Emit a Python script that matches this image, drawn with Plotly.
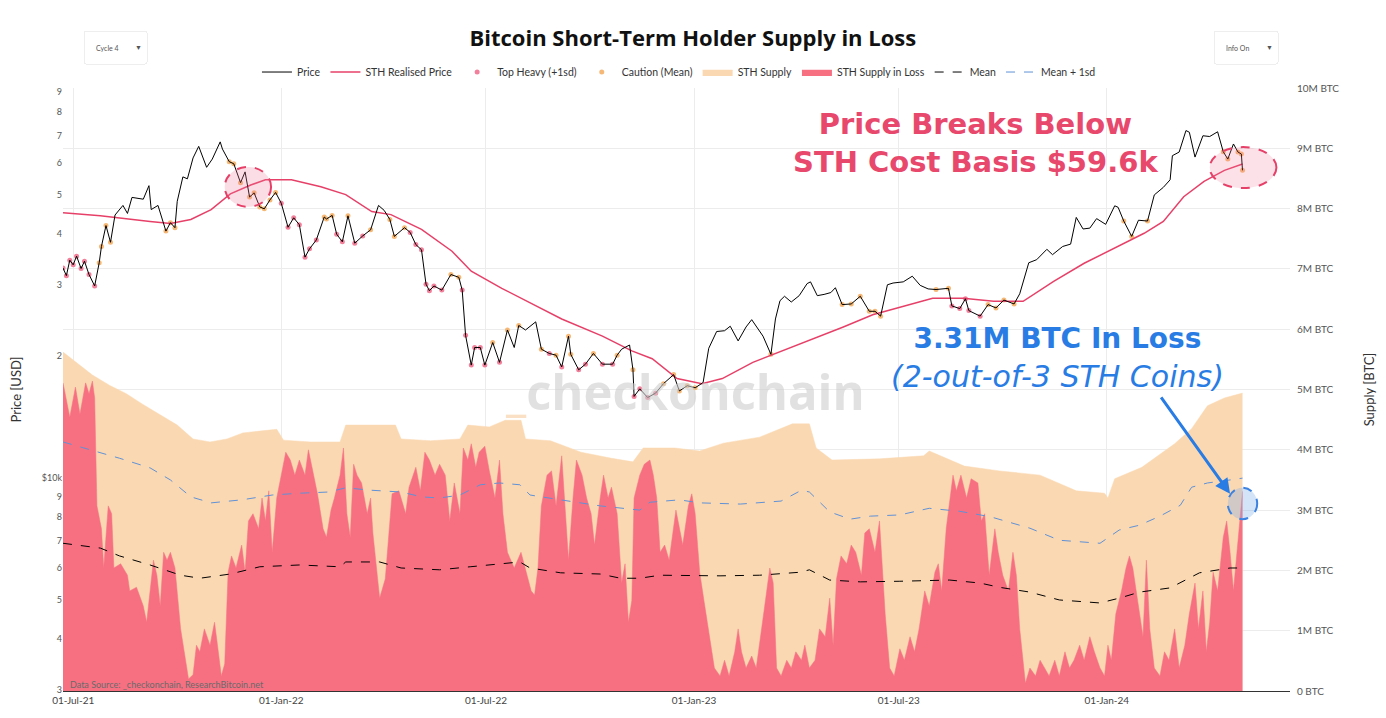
import numpy as np
import pandas as pd
import plotly.graph_objects as go

# ---------------- DATA ----------------
price_dates = ["2021-06-22","2021-06-25","2021-06-28","2021-07-01","2021-07-04","2021-07-08","2021-07-11","2021-07-15",
"2021-07-20","2021-07-24","2021-07-26","2021-07-30","2021-08-03","2021-08-07","2021-08-14","2021-08-18","2021-08-22",
"2021-08-27","2021-09-01","2021-09-06","2021-09-08","2021-09-14","2021-09-21","2021-09-25","2021-09-29","2021-10-01",
"2021-10-06","2021-10-10","2021-10-15","2021-10-20","2021-10-24","2021-10-27","2021-11-01","2021-11-08","2021-11-10",
"2021-11-16","2021-11-20","2021-11-26","2021-11-30","2021-12-04","2021-12-08","2021-12-13","2021-12-17","2021-12-22",
"2021-12-27","2022-01-01","2022-01-07","2022-01-12","2022-01-17","2022-01-22","2022-01-26","2022-02-01","2022-02-08",
"2022-02-10","2022-02-15","2022-02-19","2022-02-24","2022-03-01","2022-03-07","2022-03-14","2022-03-21","2022-03-28",
"2022-04-02","2022-04-07","2022-04-11","2022-04-20","2022-04-25","2022-04-30","2022-05-05","2022-05-09","2022-05-12",
"2022-05-16","2022-05-23","2022-05-31","2022-06-07","2022-06-10","2022-06-13","2022-06-18","2022-06-21","2022-06-26",
"2022-06-30","2022-07-07","2022-07-13","2022-07-20","2022-07-26","2022-07-30","2022-08-05","2022-08-14","2022-08-19",
"2022-08-26","2022-09-01","2022-09-06","2022-09-12","2022-09-14","2022-09-21","2022-09-27","2022-10-04","2022-10-12",
"2022-10-21","2022-10-25","2022-10-29","2022-11-05","2022-11-08","2022-11-09","2022-11-14","2022-11-21","2022-11-28",
"2022-12-05","2022-12-14","2022-12-19","2022-12-26","2023-01-02","2023-01-09","2023-01-14","2023-01-21","2023-01-28",
"2023-02-02","2023-02-09","2023-02-16","2023-02-21","2023-03-03","2023-03-10","2023-03-14","2023-03-18","2023-03-22",
"2023-03-28","2023-04-04","2023-04-11","2023-04-14","2023-04-20","2023-04-26","2023-05-02","2023-05-06","2023-05-12",
"2023-05-20","2023-05-28","2023-06-05","2023-06-10","2023-06-15","2023-06-21","2023-06-26","2023-07-05","2023-07-13",
"2023-07-20","2023-07-27","2023-08-03","2023-08-14","2023-08-17","2023-08-24","2023-08-29","2023-09-01","2023-09-11",
"2023-09-18","2023-09-25","2023-10-02","2023-10-11","2023-10-16","2023-10-24","2023-10-31","2023-11-09","2023-11-14",
"2023-11-23","2023-11-30","2023-12-05","2023-12-11","2023-12-17","2023-12-23","2023-12-31","2024-01-08","2024-01-11",
"2024-01-16","2024-01-23","2024-01-29","2024-02-06","2024-02-12","2024-02-20","2024-02-26","2024-02-28","2024-03-05",
"2024-03-11","2024-03-14","2024-03-19","2024-03-26","2024-04-01","2024-04-08","2024-04-13","2024-04-17","2024-04-22",
"2024-04-26","2024-04-29","2024-04-30"]
price_k = [33.0,31.6,34.5,33.6,35.3,32.9,34.3,31.8,
29.8,34.0,37.3,42.0,38.2,44.6,47.1,45.0,49.3,
49.1,48.8,52.7,46.0,47.1,40.7,42.7,41.5,48.2,
55.4,54.8,61.7,65.9,61.1,58.5,61.3,67.6,64.9,
60.4,59.7,53.6,57.0,49.4,50.6,46.7,46.2,48.6,
50.7,47.7,41.6,43.9,42.2,35.1,36.8,38.7,44.1,
43.6,44.5,40.0,38.3,44.4,38.0,39.6,41.0,47.1,
45.8,43.5,39.5,41.5,40.4,37.7,36.6,30.1,29.0,
29.8,29.1,31.8,31.3,29.1,22.5,19.0,21.0,21.0,
19.0,21.6,19.3,23.2,21.0,23.8,23.2,24.3,20.8,
20.3,20.1,18.8,22.4,20.2,18.5,19.1,20.3,19.1,
19.1,20.1,20.8,21.3,18.5,15.9,16.6,15.8,16.2,
17.1,18.0,16.4,16.9,16.7,17.2,20.9,23.0,23.1,
23.7,21.8,23.6,24.6,22.4,20.2,24.7,27.4,28.1,
27.2,28.2,30.2,30.5,28.2,28.4,28.7,29.5,26.8,
26.9,28.1,25.8,25.8,25.1,30.0,30.3,30.5,31.5,
29.9,29.3,29.2,29.4,26.6,26.2,27.7,25.9,25.1,
26.8,26.3,27.5,26.9,28.5,34.0,34.6,36.7,35.6,
37.3,37.8,44.0,41.2,41.4,43.7,42.3,47.0,46.6,
43.1,39.5,43.3,43.1,50.0,52.2,54.5,62.5,63.8,
72.1,71.4,62.0,70.0,69.7,71.6,63.9,61.3,66.8,
63.8,63.1,57.5]

sth_rp_dates = ["2021-06-22","2021-07-25","2021-09-07","2021-09-25","2021-10-13","2021-10-31","2021-11-17","2021-12-05",
"2021-12-18","2022-01-10","2022-02-05","2022-02-27","2022-03-22","2022-04-08","2022-05-05","2022-06-01","2022-06-18",
"2022-07-15","2022-08-10","2022-09-06","2022-10-12","2022-11-07","2022-11-25","2022-12-17","2023-01-08","2023-01-26",
"2023-02-22","2023-03-20","2023-04-16","2023-05-13","2023-06-08","2023-07-05","2023-07-31","2023-08-27","2023-09-23",
"2023-10-19","2023-11-15","2023-12-12","2024-01-07","2024-02-03","2024-02-20","2024-03-09","2024-03-27","2024-04-14",
"2024-04-30"]
sth_rp_k = [45.2,44.4,43.0,42.5,43.5,46.0,50.3,52.9,
54.5,54.5,52.4,50.1,45.5,44.7,41.1,36.3,32.4,
29.4,27.0,24.7,22.4,20.6,19.7,17.6,17.1,17.6,
19.3,20.6,22.1,23.6,25.3,26.6,27.8,27.8,27.3,
27.3,30.6,33.9,36.9,40.2,43.0,49.5,54.0,57.5,
59.6]

supply_dates = ["2021-06-22","2021-07-18","2021-08-02","2021-08-17","2021-08-31","2021-09-15","2021-10-01","2021-10-15",
"2021-10-30","2021-11-14","2021-11-28","2021-12-13","2021-12-28","2022-01-03","2022-01-27","2022-02-22","2022-02-27",
"2022-03-21","2022-04-12","2022-04-17","2022-05-13","2022-06-08","2022-06-15","2022-07-04","2022-07-18","2022-08-01",
"2022-08-05","2022-08-27","2022-09-23","2022-10-20","2022-11-08","2022-11-17","2022-12-15","2023-01-06","2023-01-27",
"2023-02-28","2023-03-29","2023-04-13","2023-04-19","2023-05-03","2023-06-14","2023-07-23","2023-07-28","2023-08-28",
"2023-09-28","2023-11-03","2023-12-05","2023-12-30","2024-01-02","2024-01-08","2024-02-01","2024-03-01","2024-03-16",
"2024-03-30","2024-04-14","2024-04-30"]
supply_m = [5.62,5.24,5.07,4.93,4.76,4.59,4.41,4.18,
4.13,4.18,4.28,4.31,4.34,4.16,4.13,4.13,4.41,
4.41,4.41,4.18,4.15,4.18,4.41,4.38,4.49,4.49,
4.18,4.15,3.96,3.86,3.80,4.03,4.03,3.98,4.11,
4.21,4.43,4.43,4.03,3.83,3.85,3.90,3.98,3.73,
3.65,3.58,3.32,3.28,3.20,3.52,3.71,4.10,4.35,
4.73,4.86,4.94]

loss_dates = ["2021-06-22","2021-06-28","2021-07-03","2021-07-07","2021-07-12","2021-07-15","2021-07-18","2021-07-20",
"2021-07-22","2021-07-26","2021-07-28","2021-08-01","2021-08-04","2021-08-06","2021-08-12","2021-08-18","2021-08-20",
"2021-08-26","2021-09-01","2021-09-04","2021-09-07","2021-09-10","2021-09-13","2021-09-16","2021-09-19","2021-09-22",
"2021-09-25","2021-09-29","2021-10-04","2021-10-08","2021-10-11","2021-10-15","2021-10-18","2021-10-21","2021-10-25",
"2021-10-30","2021-11-03","2021-11-06","2021-11-09","2021-11-12","2021-11-15","2021-11-18","2021-11-22","2021-11-27",
"2021-11-30","2021-12-03","2021-12-07","2021-12-12","2021-12-15","2021-12-18","2021-12-21","2021-12-24","2021-12-28",
"2022-01-01","2022-01-05","2022-01-09","2022-01-13","2022-01-17","2022-01-22","2022-01-25","2022-01-29","2022-02-02",
"2022-02-07","2022-02-10","2022-02-14","2022-02-17","2022-02-22","2022-02-25","2022-02-28","2022-03-03","2022-03-06",
"2022-03-09","2022-03-13","2022-03-18","2022-03-21","2022-03-23","2022-03-29","2022-04-03","2022-04-09","2022-04-15",
"2022-04-21","2022-04-24","2022-04-30","2022-05-04","2022-05-08","2022-05-12","2022-05-17","2022-05-21","2022-05-26",
"2022-05-30","2022-06-03","2022-06-08","2022-06-11","2022-06-15","2022-06-18","2022-06-22","2022-06-25","2022-06-30",
"2022-07-04","2022-07-09","2022-07-13","2022-07-16","2022-07-20","2022-07-26","2022-08-01","2022-08-06","2022-08-10",
"2022-08-13","2022-08-16","2022-08-19","2022-08-24","2022-08-28","2022-09-01","2022-09-06","2022-09-09","2022-09-12",
"2022-09-16","2022-09-19","2022-09-24","2022-09-28","2022-10-02","2022-10-05","2022-10-10","2022-10-13","2022-10-17",
"2022-10-20","2022-10-25","2022-10-29","2022-11-01","2022-11-04","2022-11-07","2022-11-09","2022-11-14","2022-11-18",
"2022-11-23","2022-11-26","2022-11-29","2022-12-02","2022-12-06","2022-12-10","2022-12-16","2022-12-22","2022-12-27",
"2022-12-30","2023-01-02","2023-01-06","2023-01-10","2023-01-15","2023-01-19","2023-01-24","2023-01-28","2023-02-01",
"2023-02-06","2023-02-09","2023-02-12","2023-02-16","2023-02-21","2023-02-25","2023-03-01","2023-03-04","2023-03-09",
"2023-03-12","2023-03-15","2023-03-19","2023-03-24","2023-03-28","2023-04-01","2023-04-06","2023-04-09","2023-04-13",
"2023-04-18","2023-04-22","2023-04-27","2023-05-01","2023-05-04","2023-05-07","2023-05-11","2023-05-16","2023-05-20",
"2023-05-24","2023-05-29","2023-06-01","2023-06-05","2023-06-10","2023-06-14","2023-06-19","2023-06-23","2023-06-27",
"2023-07-02","2023-07-06","2023-07-11","2023-07-15","2023-07-19","2023-07-24","2023-07-28","2023-08-02","2023-08-05",
"2023-08-08","2023-08-12","2023-08-18","2023-08-21","2023-08-25","2023-08-30","2023-09-03","2023-09-09","2023-09-12",
"2023-09-15","2023-09-19","2023-09-24","2023-09-27","2023-10-01","2023-10-06","2023-10-10","2023-10-13","2023-10-16",
"2023-10-21","2023-10-25","2023-10-30","2023-11-03","2023-11-07","2023-11-11","2023-11-16","2023-11-20","2023-11-25",
"2023-11-29","2023-12-03","2023-12-08","2023-12-12","2023-12-17","2023-12-21","2023-12-26","2023-12-30","2024-01-02",
"2024-01-05","2024-01-09","2024-01-14","2024-01-18","2024-01-21","2024-01-24","2024-01-27","2024-01-30","2024-02-02",
"2024-02-05","2024-02-08","2024-02-12","2024-02-17","2024-02-21","2024-02-25","2024-03-01","2024-03-05","2024-03-10",
"2024-03-14","2024-03-19","2024-03-22","2024-03-26","2024-03-29","2024-04-01","2024-04-04","2024-04-08","2024-04-13",
"2024-04-16","2024-04-19","2024-04-22","2024-04-25","2024-04-28","2024-04-30"]
loss_m = [5.11,4.54,5.04,4.59,5.11,4.93,5.14,4.86,
3.07,2.69,2.04,3.07,2.94,2.04,2.11,1.92,1.66,
1.72,1.41,1.14,1.66,2.17,1.92,1.41,2.30,2.17,
2.30,2.04,1.03,0.51,0.20,0.27,0.76,0.65,1.03,
0.76,1.14,0.70,0.25,0.45,1.97,2.24,2.04,2.42,
1.97,2.82,2.94,2.69,3.20,2.82,3.32,2.30,3.20,
3.58,3.96,3.83,3.58,3.83,3.58,4.00,3.65,3.27,
2.69,2.55,3.00,3.20,3.58,4.03,2.94,2.55,3.76,
3.58,3.45,2.94,3.20,2.62,1.54,1.86,3.27,3.32,
2.94,3.38,3.71,3.32,3.96,3.83,3.58,3.76,3.58,
2.82,3.45,2.94,4.03,3.83,4.10,3.71,3.96,4.06,
3.65,3.20,3.83,2.94,2.30,2.04,2.30,1.92,1.66,
1.59,2.04,3.07,3.58,3.65,3.07,3.90,2.94,2.17,
3.20,3.83,3.58,3.20,2.94,2.42,3.20,3.58,3.20,
3.38,2.94,1.79,2.11,1.14,1.50,3.20,3.58,3.76,
3.83,3.58,3.20,2.30,2.42,2.17,3.00,2.42,3.07,
3.27,2.94,1.97,1.47,0.83,0.38,0.25,0.51,0.25,
0.65,1.03,0.65,0.38,0.58,0.38,0.90,1.34,2.04,
1.79,0.38,0.25,0.51,0.38,0.65,0.51,0.76,0.38,
0.51,1.03,0.90,1.54,0.76,1.86,2.24,2.11,2.42,
2.30,1.92,2.62,2.69,2.30,2.82,1.28,0.38,0.25,
0.70,0.51,0.90,0.65,1.03,1.66,1.41,1.97,2.11,
1.66,2.69,3.58,3.32,3.58,3.20,3.52,3.45,2.82,
2.94,1.92,2.69,2.30,1.92,1.66,2.30,1.92,1.03,
0.13,0.38,0.25,0.51,0.38,0.25,0.51,0.25,0.65,
0.38,0.51,0.76,0.51,0.90,0.65,0.38,0.25,0.76,
0.51,1.28,1.66,2.04,2.24,2.04,1.66,1.28,0.90,
2.17,1.03,0.38,0.25,0.65,0.51,1.03,0.38,0.76,
1.28,1.79,1.03,1.66,0.65,1.14,1.97,1.66,2.55,
2.82,2.30,1.66,2.30,2.94,3.31]

mean_dates = ["2021-06-22","2021-07-25","2021-08-11","2021-09-07","2021-10-04","2021-10-21","2021-11-17","2021-12-13",
"2022-01-17","2022-02-22","2022-02-27","2022-03-29","2022-04-17","2022-05-21","2022-06-17","2022-07-13","2022-07-31",
"2022-08-09","2022-09-05","2022-10-10","2022-10-28","2022-11-14","2022-12-02","2023-01-24","2023-02-28","2023-04-05",
"2023-04-13","2023-05-01","2023-05-28","2023-07-02","2023-08-15","2023-09-11","2023-09-28","2023-10-25","2023-11-20",
"2023-12-26","2024-01-12","2024-01-30","2024-02-26","2024-03-23","2024-04-19","2024-04-30"]
mean_m = [2.45,2.37,2.24,2.09,1.92,1.87,1.94,2.06,
2.09,2.06,2.14,2.14,2.04,2.01,2.06,2.11,2.14,
2.04,1.96,1.94,1.87,1.87,1.92,1.91,1.92,1.97,
2.01,1.84,1.81,1.82,1.84,1.79,1.72,1.64,1.51,
1.46,1.54,1.64,1.71,1.96,2.04,2.04]

sd_dates = ["2021-06-22","2021-07-25","2021-08-11","2021-09-07","2021-09-25","2021-10-13","2021-10-31","2021-11-27",
"2021-12-24","2022-01-17","2022-02-12","2022-02-27","2022-03-21","2022-04-17","2022-05-05","2022-05-21","2022-06-08",
"2022-06-26","2022-07-13","2022-07-31","2022-08-09","2022-09-05","2022-10-10","2022-11-14","2022-11-23","2022-12-19",
"2023-01-06","2023-02-11","2023-03-19","2023-04-06","2023-04-13","2023-05-01","2023-05-19","2023-06-06","2023-07-02",
"2023-07-28","2023-08-24","2023-09-20","2023-10-25","2023-11-20","2023-12-26","2024-01-12","2024-01-30","2024-02-17",
"2024-03-06","2024-03-16","2024-03-30","2024-04-19","2024-04-30"]
sd_m = [4.13,3.96,3.86,3.70,3.50,3.22,3.12,3.17,
3.25,3.28,3.30,3.37,3.33,3.30,3.22,3.20,3.25,
3.42,3.45,3.42,3.25,3.17,3.07,3.00,3.13,3.17,
3.12,3.10,3.15,3.33,3.30,2.97,2.85,2.90,2.92,
3.03,2.98,2.89,2.70,2.50,2.45,2.67,2.75,2.90,
3.08,3.38,3.45,3.50,3.53]

x_ticks = ["2021-07-01","2022-01-01","2022-07-01","2023-01-01","2023-07-01","2024-01-01"]
price_tickvals = [3000,4000,5000,6000,7000,8000,9000,10000,20000,30000,40000,50000,60000,70000,80000,90000]
price_ticktext = ["3","4","5","6","7","8","9","$10k","2","3","4","5","6","7","8","9"]
supply_tickvals = [0,1e6,2e6,3e6,4e6,5e6,6e6,7e6,8e6,9e6,10e6]
supply_ticktext = ["0 BTC","1M BTC","2M BTC","3M BTC","4M BTC","5M BTC","6M BTC","7M BTC","8M BTC","9M BTC","10M BTC"]

# ---------------- derived ----------------
M = 1e6
price = np.array(price_k) * 1000
sth_rp = np.array(sth_rp_k) * 1000
pt = pd.to_datetime(price_dates).astype("int64")
loss_at = np.interp(pt, pd.to_datetime(loss_dates).astype("int64"), loss_m)
mean_at = np.interp(pt, pd.to_datetime(mean_dates).astype("int64"), mean_m)
sd_at = np.interp(pt, pd.to_datetime(sd_dates).astype("int64"), sd_m)
top_mask = loss_at > sd_at
caut_mask = (loss_at > mean_at) & ~top_mask

FONT = "Lato"
BIG = "Open Sans"
WIDE = "DejaVu Sans"
PINK = "rgb(231,64,104)"
BLUE = "rgb(40,124,228)"

fig = go.Figure()

# supply axis (right) traces
fig.add_trace(go.Scatter(x=supply_dates, y=np.array(supply_m) * M, name="STH Supply", yaxis="y",
                         mode="lines", line=dict(color="rgb(250,216,178)", width=0.5), fill="tozeroy",
                         fillcolor="rgb(250,216,178)", legendrank=5))
fig.add_trace(go.Scatter(x=loss_dates, y=np.array(loss_m) * M, name="STH Supply in Loss", yaxis="y",
                         mode="lines", line=dict(color="rgb(247,112,130)", width=0.5), fill="tozeroy",
                         fillcolor="rgb(247,112,130)", legendrank=6))
fig.add_trace(go.Scatter(x=mean_dates, y=np.array(mean_m) * M, name="Mean", yaxis="y", mode="lines",
                         line=dict(color="black", width=1, dash="dash"), legendrank=7))
fig.add_trace(go.Scatter(x=sd_dates, y=np.array(sd_m) * M, name="Mean + 1sd", yaxis="y", mode="lines",
                         line=dict(color="rgb(95,145,215)", width=1, dash="dash"), legendrank=8))

# price axis (left, log) traces
pd_arr = np.array(price_dates)
fig.add_trace(go.Scatter(x=pd_arr[top_mask], y=price[top_mask], name="Top Heavy (+1sd)", yaxis="y2",
                         mode="markers", marker=dict(color="rgb(242,128,155)", size=5), legendrank=3))
fig.add_trace(go.Scatter(x=pd_arr[caut_mask], y=price[caut_mask], name="Caution (Mean)", yaxis="y2",
                         mode="markers", marker=dict(color="rgb(246,184,118)", size=5), legendrank=4))
fig.add_trace(go.Scatter(x=sth_rp_dates, y=sth_rp, name="STH Realised Price", yaxis="y2", mode="lines",
                         line=dict(color=PINK, width=1.5), legendrank=2))
fig.add_trace(go.Scatter(x=price_dates, y=price, name="Price", yaxis="y2", mode="lines",
                         line=dict(color="black", width=1), legendrank=1))

fig.update_layout(
    width=1378, height=710,
    margin=dict(l=55, r=96, t=80, b=27, autoexpand=False),
    paper_bgcolor="white", plot_bgcolor="white",
    font=dict(family=FONT, color="#444"),
    showlegend=True,
    title=dict(text="<b>Bitcoin Short-Term Holder Supply in Loss</b>", x=0.497, xanchor="center",
               y=0.9577, yanchor="middle", font=dict(family=BIG, size=22, color="#111")),
    legend=dict(orientation="h", x=0.502, xanchor="center", y=1.0265, yanchor="middle",
                font=dict(family=FONT, size=10.5, color="#333"), bgcolor="rgba(0,0,0,0)",
                itemwidth=30, tracegroupgap=0),
    xaxis=dict(type="date", range=["2021-06-22", "2024-06-11"], tickvals=x_ticks, tickformat="%d-%b-%y",
               showgrid=True, gridcolor="#ececec", gridwidth=1, zeroline=False, automargin=False,
               showline=True, linecolor="#333", linewidth=1, ticks="",
               tickfont=dict(family=FONT, size=10, color="#444")),
    yaxis=dict(side="right", range=[0, 10e6], tickvals=supply_tickvals, ticktext=supply_ticktext,
               showgrid=True, gridcolor="#ececec", zeroline=False, ticks="", ticklabelstandoff=6,
               automargin=False, tickfont=dict(family=FONT, size=10, color="#555"),
               title=dict(text="Supply [BTC]", font=dict(family=FONT, size=13, color="#333"), standoff=26)),
    yaxis2=dict(type="log", overlaying="y", side="left", range=[3.474, 4.963], automargin=False,
                tickvals=price_tickvals, ticktext=price_ticktext, showgrid=False, zeroline=False, ticks="",
                tickfont=dict(family=FONT, size=9, color="#555"),
                title=dict(text="Price [USD]", font=dict(family=FONT, size=13, color="#333"), standoff=25)),
    updatemenus=[
        dict(type="dropdown", x=0.016, xanchor="left", y=1.096, yanchor="top", active=0, showactive=True,
             bgcolor="white", bordercolor="#eeeeee", borderwidth=1, font=dict(family=FONT, size=7, color="#555"),
             pad=dict(l=0, r=0, t=0, b=0),
             buttons=[dict(label="Cycle 4", method="skip", args=[None])]),
        dict(type="dropdown", x=0.937, xanchor="left", y=1.096, yanchor="top", active=0, showactive=True,
             bgcolor="white", bordercolor="#eeeeee", borderwidth=1, font=dict(family=FONT, size=7, color="#555"),
             pad=dict(l=0, r=0, t=0, b=0),
             buttons=[dict(label="Info On", method="skip", args=[None])]),
    ],
)

# shapes: dashed highlight ellipses (supply axis coordinates)
fig.add_shape(type="circle", xref="x", yref="y", x0="2021-11-12", x1="2021-12-23", y0=8.03e6, y1=8.69e6,
              line=dict(color=PINK, width=2, dash="dash"), fillcolor="rgba(240,120,150,0.25)", layer="above")
fig.add_shape(type="circle", xref="x", yref="y", x0="2024-04-01", x1="2024-05-30", y0=8.34e6, y1=9.02e6,
              line=dict(color=PINK, width=2, dash="dash"), fillcolor="rgba(240,120,150,0.22)", layer="above")
fig.add_shape(type="circle", xref="x", yref="y", x0="2024-04-17", x1="2024-05-13", y0=2.85e6, y1=3.37e6,
              line=dict(color="rgb(60,130,225)", width=2, dash="dash"), fillcolor="rgba(130,175,235,0.35)",
              layer="above")

# watermark
fig.add_annotation(xref="paper", yref="paper", x=0.507, y=0.497, xanchor="center", yanchor="middle",
                   text="<b><span style='color:rgba(246,200,150,0.9)'>_</span>checkonchain</b>", showarrow=False,
                   font=dict(family=BIG, size=49, color="rgba(205,205,205,0.6)"))
# text annotations
PX = lambda x: (x - 63) / 1227
PY = lambda y: (691 - y) / 603
fig.add_annotation(xref="paper", yref="paper", x=PX(975), y=PY(143.5), xanchor="center", yanchor="middle",
                   showarrow=False, align="center", text="<b>Price Breaks Below<br>STH Cost Basis $59.6k</b>",
                   font=dict(family=WIDE, size=29, color="rgb(232,72,108)"))
fig.add_annotation(xref="paper", yref="paper", x=PX(1057), y=PY(357.5), xanchor="center", yanchor="middle",
                   showarrow=False, align="center",
                   text="<b><span style='font-size:28px'>3.31M BTC In Loss</span></b><br><i>(2-out-of-3 STH Coins)</i>",
                   font=dict(family=WIDE, size=30, color=BLUE))
# arrow
fig.add_annotation(xref="x", yref="y", x="2024-04-19", y=3.27e6, ax=-70, ay=-98, axref="pixel", ayref="pixel",
                   text="", showarrow=True, arrowhead=2, arrowsize=1, arrowwidth=3, arrowcolor=BLUE)
# data source
fig.add_annotation(xref="paper", yref="paper", x=0.004, y=0.01, xanchor="left", yanchor="middle",
                   showarrow=False, text="Data Source: _checkonchain, ResearchBitcoin.net",
                   font=dict(family=FONT, size=9, color="#6a6a6a"))

fig.write_html("out.html")
